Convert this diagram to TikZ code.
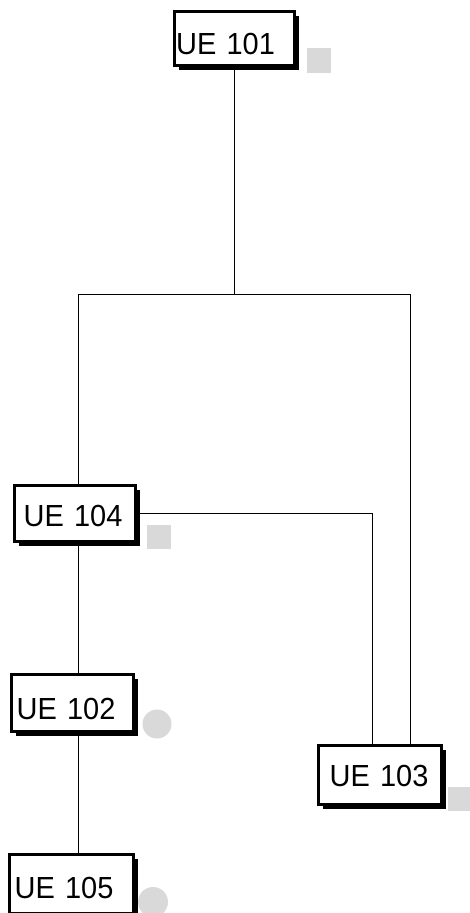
\documentclass[tikz,border=0pt]{standalone}
\usepackage{fontspec}
\setmainfont{Liberation Sans}[FakeStretch=0.95]
\usetikzlibrary{shadows}
\definecolor{markgray}{RGB}{217,217,217}
\begin{document}
\begin{tikzpicture}[x=1pt,y=-1pt,
  ue/.style n args={5}{draw=black, line width=3pt, fill=white,
    drop shadow={shadow xshift=4.5pt, shadow yshift=-4.5pt, fill=black, opacity=1},
    font=\fontsize{30.5}{36}\selectfont, align=left,
    text width=#1, inner xsep=#2, inner ysep=0pt,
    text height=#3, text depth=0pt,
    minimum width=#4, minimum height=#5},
  conn/.style={draw=black, line width=0.8pt},
  sqmark/.style={fill=markgray, draw=none, minimum size=24.5pt, inner sep=0pt},
  cmark/.style={circle, fill=markgray, draw=none, minimum size=#1, inner sep=0pt}]
\useasboundingbox (0,0) rectangle (469,913);
% boxes
\node[ue={115.6pt}{2.2pt}{32.8pt}{120pt}{54pt}] (u101) at (234,38.5) {UE 101};
\node[ue={102.6pt}{9.2pt}{26.8pt}{121pt}{56pt}] (u104) at (75,513.5) {UE 104};
\node[ue={111.6pt}{5.2pt}{33.8pt}{122pt}{57pt}] (u102) at (72.5,703) {UE 102};
\node[ue={100.6pt}{11.2pt}{23.8pt}{123pt}{59pt}] (u103) at (380,775) {UE 103};
\node[ue={113.6pt}{5.2pt}{28.8pt}{124pt}{59pt}] (u105) at (71.5,884) {UE 105};
% markers
\node[sqmark] (m101) at (319,60.5) {};
\node[sqmark] (m104) at (159,537) {};
\node[sqmark] (m103) at (460,799) {};
\node[cmark=29pt] (m102) at (157,724) {};
\node[cmark=30pt] (m105) at (153,902) {};
% junctions
\coordinate (jm) at (234,294);
\coordinate (jl) at (78,294);
\coordinate (jr) at (410,294);
\coordinate (k) at (372,513.5);
% connectors
\draw[conn] (u101.south) -- (jm);
\draw[conn] (jl) -- (jr);
\draw[conn] (jl) -- (jl |- u104.north);
\draw[conn] (jr) -- (jr |- u103.north);
\draw[conn] (u104.east) -- (k) -- (k |- u103.north);
\draw[conn] (jl |- u104.south) -- (jl |- u102.north);
\draw[conn] (jl |- u102.south) -- (jl |- u105.north);
\end{tikzpicture}
\end{document}
